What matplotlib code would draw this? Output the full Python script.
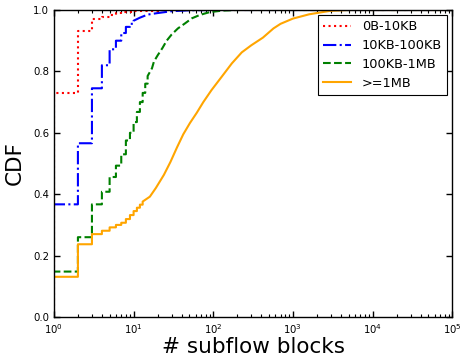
import matplotlib
matplotlib.use("Agg")
import matplotlib.pyplot as plt
from matplotlib.ticker import LogLocator

# Data (CDFs over block counts)
x_small = [1, 1, 2, 3, 4, 5, 6, 7, 10, 20, 100000]
cdf_small = [0.0, 0.729, 0.932, 0.971, 0.978, 0.985, 0.990, 0.995, 0.998, 1.0, 1.0]

x_medium = [1, 1, 2, 3, 4, 5, 6, 7, 8, 9, 10, 12, 15, 20, 30, 50, 100, 100000]
cdf_medium = [0.0, 0.367, 0.566, 0.745, 0.820, 0.872, 0.900, 0.925, 0.945, 0.955,
              0.965, 0.975, 0.985, 0.990, 0.996, 0.999, 1.0, 1.0]

x_large = [1, 1, 2, 3, 4, 5, 6, 7, 8, 9, 10, 11, 12, 13, 14, 15, 17, 18, 20, 23,
           26, 30, 36, 44, 54, 68, 90, 130, 200, 100000]
cdf_large = [0.0, 0.148, 0.260, 0.367, 0.408, 0.456, 0.493, 0.530, 0.575, 0.600,
             0.635, 0.668, 0.700, 0.730, 0.760, 0.785, 0.810, 0.832, 0.852, 0.876,
             0.900, 0.920, 0.940, 0.956, 0.973, 0.984, 0.993, 0.998, 1.0, 1.0]

x_huge = [1, 1, 2, 3, 4, 5, 6, 7, 8, 9, 10, 11, 12, 13, 16, 19, 24, 29, 35, 42, 51,
          62, 75, 95, 128, 171, 228, 300, 420, 570, 700, 1000, 1600, 2900, 5000,
          100000]
cdf_huge = [0.0, 0.131, 0.237, 0.270, 0.281, 0.292, 0.300, 0.307, 0.319, 0.332,
            0.345, 0.356, 0.366, 0.376, 0.392, 0.420, 0.463, 0.505, 0.552, 0.595,
            0.632, 0.665, 0.700, 0.739, 0.783, 0.826, 0.862, 0.885, 0.910, 0.940,
            0.955, 0.972, 0.986, 0.997, 1.0, 1.0]

labels = ["0B-10KB", "10KB-100KB", "100KB-1MB", ">=1MB"]


def stairs_then_smooth(x, y, cut):
    """Integer steps for small counts; dense tail drawn as a continuous curve."""
    px, py = [x[0]], [y[0]]
    for i in range(1, len(x)):
        if x[i] <= cut:
            px.append(x[i])
            py.append(py[-1])
        px.append(x[i])
        py.append(y[i])
    return px, py


fig = plt.figure(figsize=(4.61, 3.57), dpi=100)
ax = fig.add_axes([0.117, 0.112, 0.864, 0.860])

series = [
    (x_small, cdf_small, "red", ":", 1e6),
    (x_medium, cdf_medium, "blue", "-.", 10),
    (x_large, cdf_large, "green", "--", 15),
    (x_huge, cdf_huge, "orange", "-", 13),
]
for (xs, ys, c, ls, cut), lab in zip(series, labels):
    px, py = stairs_then_smooth(xs, ys, cut)
    ax.plot(px, py, color=c, linestyle=ls, linewidth=1.5, label=lab)

ax.set_xscale("log")
ax.set_xlim(1, 1e5)
ax.set_ylim(0, 1.0)
ax.set_yticks([0.0, 0.2, 0.4, 0.6, 0.8, 1.0])
ax.xaxis.set_major_locator(LogLocator(base=10, numticks=10))
ax.xaxis.set_minor_locator(LogLocator(base=10, subs=range(2, 10), numticks=20))

ax.tick_params(which="both", direction="in", top=True, right=True, labelsize=7.3)
ax.tick_params(which="major", length=4, width=1)
ax.tick_params(which="minor", length=2, width=0.8)
for s in ax.spines.values():
    s.set_linewidth(1.0)

ax.set_xlabel("# subflow blocks", fontsize=15.5, labelpad=1)
ax.set_ylabel("CDF", fontsize=15.5, labelpad=6)

leg = ax.legend(loc="upper right", fontsize=9.3, fancybox=False, framealpha=1,
                edgecolor="black", borderaxespad=0.4, handlelength=2.2,
                labelspacing=0.45)
leg.get_frame().set_linewidth(0.8)

fig.savefig("out.png", dpi=100)
